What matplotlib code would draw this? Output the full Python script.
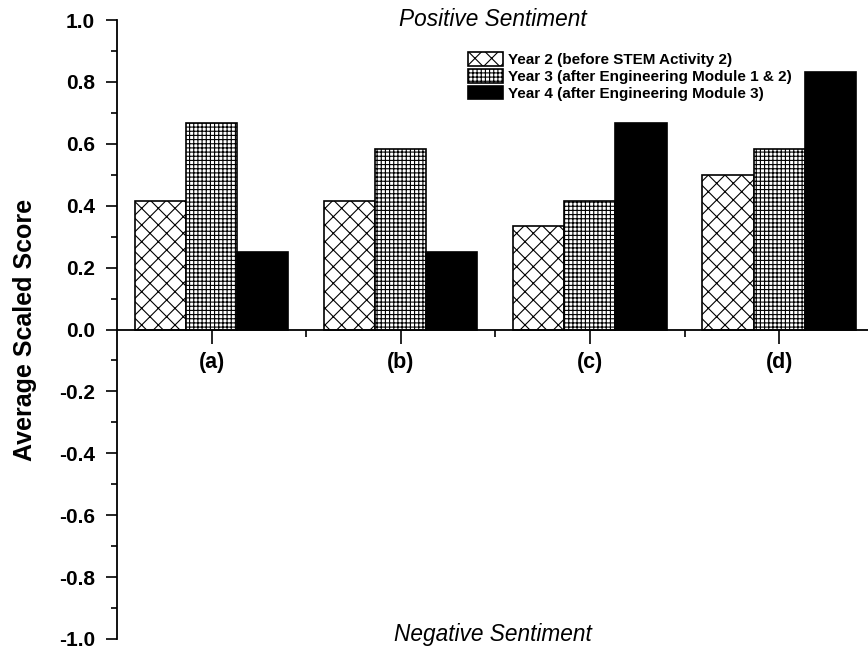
import matplotlib
matplotlib.use("Agg")
import matplotlib.pyplot as plt
import numpy as np
from matplotlib.ticker import MultipleLocator, FixedLocator

categories = ["(a)", "(b)", "(c)", "(d)"]
series_labels = ["Year 2 (before STEM Activity 2)",
                 "Year 3 (after Engineering Module 1 & 2)",
                 "Year 4 (after Engineering Module 3)"]
year2 = [0.4167, 0.4167, 0.3333, 0.5000]
year3 = [0.6667, 0.5833, 0.4167, 0.5833]
year4 = [0.2500, 0.2500, 0.6667, 0.8333]
ytick_values = [-1.0, -0.8, -0.6, -0.4, -0.2, 0.0, 0.2, 0.4, 0.6, 0.8, 1.0]

plt.rcParams['font.family'] = ['Liberation Sans', 'DejaVu Sans']
plt.rcParams['hatch.linewidth'] = 0.8
plt.rcParams['hatch.color'] = '#333333'

fig = plt.figure(figsize=(8.68, 6.51), dpi=100)
ax = fig.add_axes([117/868, 1-639/651, 1-117/868, 619/651])

x = np.arange(1, len(categories)+1)
w = 0.27
styles = [dict(facecolor='white', hatch='xx'),
          dict(facecolor='white', hatch='++++'),
          dict(facecolor='black', hatch=None)]
for i, (vals, lab, st) in enumerate(zip([year2, year3, year4], series_labels, styles)):
    ax.bar(x + (i-1)*w, vals, width=w, edgecolor='black', linewidth=1.2,
           label=lab, **st)

ax.set_xlim(0.5, 4.47)
ax.set_ylim(-1.0, 1.0)

for s in ['top', 'right']:
    ax.spines[s].set_visible(False)
ax.spines['bottom'].set_position(('data', 0))
ax.spines['bottom'].set_linewidth(1.3)
ax.spines['left'].set_linewidth(1.3)

ax.set_xticks(x)
ax.set_xticklabels(categories, fontsize=15.5, fontweight='bold')
ax.xaxis.set_minor_locator(FixedLocator([1.5, 2.5, 3.5]))
ax.tick_params(axis='x', which='major', direction='out', length=10, width=1.2, pad=6)
ax.tick_params(axis='x', which='minor', direction='out', length=5, width=1.2)

ax.set_yticks(ytick_values)
ax.set_yticklabels([f"{v:.1f}" for v in ytick_values], fontsize=15, fontweight='bold')
ax.yaxis.set_minor_locator(MultipleLocator(0.1))
ax.tick_params(axis='y', which='major', direction='out', length=8, width=1.2, pad=8)
ax.tick_params(axis='y', which='minor', direction='out', length=4.5, width=1.2)

ax.set_ylabel("Average Scaled Score", fontsize=18, fontweight='bold')
ax.yaxis.set_label_coords(-0.107, 0.5)

ax.text(0.5, 1.0, "Positive Sentiment", transform=ax.transAxes, ha='center',
        va='center', fontsize=16.3, fontstyle='italic')
ax.text(0.5, 0.008, "Negative Sentiment", transform=ax.transAxes, ha='center',
        va='center', fontsize=16.3, fontstyle='italic')

fig.legend(loc='upper left', bbox_to_anchor=(468/868, 1-52/651), frameon=False,
           prop={'weight': 'bold', 'size': 11}, handlelength=2.3, handleheight=1.0,
           labelspacing=0.12, handletextpad=0.3, borderpad=0, borderaxespad=0)

fig.savefig("out.png", dpi=100)
